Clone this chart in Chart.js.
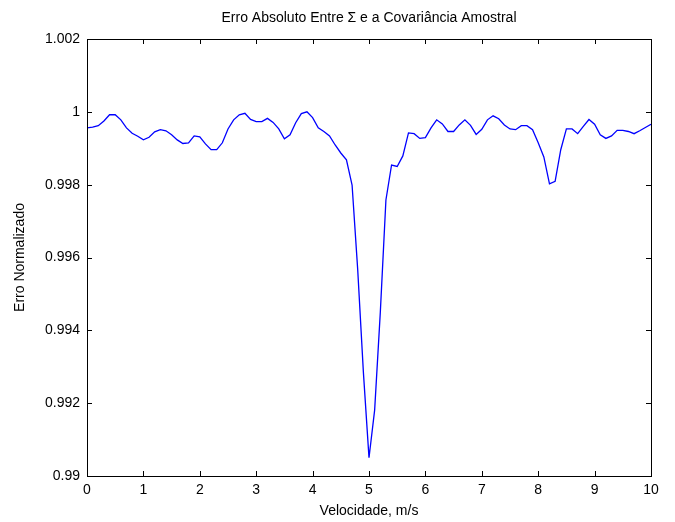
<!DOCTYPE html>
<html>
<head>
<meta charset="utf-8">
<script src="https://cdn.jsdelivr.net/npm/chart.js@4/dist/chart.umd.min.js"></script>
<style>
    html, body { margin: 0; padding: 0; background: #fff; }
    #wrap { width: 675px; height: 522px; }
</style>
</head>
<body>
<div id="wrap"><canvas id="erroChart" width="675" height="522"></canvas></div>
<script>
// velocidade (m/s)
const velocidade = [
    0.0, 0.1, 0.2, 0.3, 0.4, 0.5, 0.6, 0.7, 0.8, 0.9,
    1.0, 1.1, 1.2, 1.3, 1.4, 1.5, 1.6, 1.7, 1.8, 1.9,
    2.0, 2.1, 2.2, 2.3, 2.4, 2.5, 2.6, 2.7, 2.8, 2.9,
    3.0, 3.1, 3.2, 3.3, 3.4, 3.5, 3.6, 3.7, 3.8, 3.9,
    4.0, 4.1, 4.2, 4.3, 4.4, 4.5, 4.6, 4.7, 4.8, 4.9,
    5.0, 5.1, 5.2, 5.3, 5.4, 5.5, 5.6, 5.7, 5.8, 5.9,
    6.0, 6.1, 6.2, 6.3, 6.4, 6.5, 6.6, 6.7, 6.8, 6.9,
    7.0, 7.1, 7.2, 7.3, 7.4, 7.5, 7.6, 7.7, 7.8, 7.9,
    8.0, 8.1, 8.2, 8.3, 8.4, 8.5, 8.6, 8.7, 8.8, 8.9,
    9.0, 9.1, 9.2, 9.3, 9.4, 9.5, 9.6, 9.7, 9.8, 9.9,
    10.0
];

// erro normalizado
const erroNormalizado = [
    0.99956, 0.99958, 0.99962, 0.99975, 0.99992, 0.99992, 0.99978, 0.99956, 0.99941, 0.99933,
    0.99923, 0.99930, 0.99945, 0.99951, 0.99948, 0.99937, 0.99923, 0.99913, 0.99915, 0.99934,
    0.99931, 0.99912, 0.99896, 0.99896, 0.99915, 0.99953, 0.99978, 0.99992, 0.99996, 0.99979,
    0.99973, 0.99973, 0.99982, 0.99971, 0.99953, 0.99926, 0.99937, 0.99970, 0.99995, 1.00000,
    0.99984, 0.99956, 0.99946, 0.99934, 0.99909, 0.99887, 0.99868, 0.99799, 0.99566, 0.99286,
    0.99050, 0.99181, 0.99448, 0.99758, 0.99854, 0.99850, 0.99879, 0.99942, 0.99940, 0.99927,
    0.99929, 0.99956, 0.99978, 0.99967, 0.99946, 0.99946, 0.99964, 0.99978, 0.99963, 0.99938,
    0.99952, 0.99978, 0.99989, 0.99981, 0.99964, 0.99953, 0.99951, 0.99962, 0.99962, 0.99951,
    0.99915, 0.99876, 0.99802, 0.99809, 0.99896, 0.99953, 0.99953, 0.99940, 0.99960, 0.99979,
    0.99966, 0.99937, 0.99927, 0.99934, 0.99949, 0.99949, 0.99946, 0.99940, 0.99948, 0.99957,
    0.99966
];

const titulo = "Erro Absoluto Entre \u03A3 e a Covari\u00E2ncia Amostral";
const tituloX = "Velocidade, m/s";
const tituloY = "Erro Normalizado";

const FONT = "'Liberation Sans', Arial, Helvetica, sans-serif";

// ===== BOX + INWARD TICKS + TITLE =====
const matlabAxes = {
    id: "matlabAxes",
    afterDraw(chart) {
        const ctx = chart.ctx;
        const a = chart.chartArea;
        const xs = chart.scales.x;
        const ys = chart.scales.y;
        const tl = 5;

        ctx.save();
        ctx.strokeStyle = "#000";
        ctx.lineWidth = 1;
        ctx.beginPath();

        xs.ticks.forEach(t => {
            const px = Math.round(xs.getPixelForValue(t.value)) + 0.5;
            ctx.moveTo(px, a.bottom);
            ctx.lineTo(px, a.bottom - tl);
            ctx.moveTo(px, a.top);
            ctx.lineTo(px, a.top + tl);
        });

        ys.ticks.forEach(t => {
            const py = Math.round(ys.getPixelForValue(t.value)) + 0.5;
            ctx.moveTo(a.left, py);
            ctx.lineTo(a.left + tl, py);
            ctx.moveTo(a.right, py);
            ctx.lineTo(a.right - tl, py);
        });
        ctx.stroke();

        ctx.strokeRect(Math.round(a.left) + 0.5, Math.round(a.top) + 0.5,
            Math.round(a.right - a.left), Math.round(a.bottom - a.top));

        ctx.fillStyle = "#000";
        ctx.font = "14px " + FONT;
        ctx.textAlign = "center";
        ctx.textBaseline = "middle";
        ctx.fillText(titulo, (a.left + a.right) / 2, 18);
        ctx.restore();
    }
};

const ctx = document.getElementById("erroChart").getContext("2d");

new Chart(ctx, {
    type: "line",
    data: {
        datasets: [{
            data: velocidade.map((v, i) => ({ x: v, y: erroNormalizado[i] })),
            borderColor: "#0000FF",
            borderWidth: 1.3,
            pointRadius: 0,
            tension: 0,
            fill: false
        }]
    },
    options: {
        responsive: false,
        animation: false,
        layout: {
            padding: { top: 39, right: 24, left: 0, bottom: 0 }
        },
        plugins: {
            legend: { display: false },
            tooltip: { enabled: false },
            title: { display: false }
        },
        scales: {
            x: {
                type: "linear",
                min: 0,
                max: 10,
                border: { display: false },
                grid: { display: false, drawTicks: false },
                ticks: {
                    stepSize: 1,
                    padding: 6,
                    maxRotation: 0,
                    color: "#000",
                    font: { family: FONT, size: 14 }
                },
                title: {
                    display: true,
                    text: tituloX,
                    color: "#000",
                    font: { family: FONT, size: 14 },
                    padding: { top: 0, bottom: 2 }
                },
                afterFit(scale) { scale.height = 46; }
            },
            y: {
                min: 0.99,
                max: 1.002,
                border: { display: false },
                grid: { display: false, drawTicks: false },
                ticks: {
                    stepSize: 0.002,
                    padding: 7,
                    color: "#000",
                    font: { family: FONT, size: 14 },
                    callback: v => String(parseFloat(v.toFixed(3)))
                },
                title: {
                    display: true,
                    text: tituloY,
                    color: "#000",
                    font: { family: FONT, size: 14 },
                    padding: { top: 12, bottom: 0 }
                },
                afterFit(scale) { scale.width = 87; }
            }
        }
    },
    plugins: [matlabAxes]
});
</script>
</body>
</html>
